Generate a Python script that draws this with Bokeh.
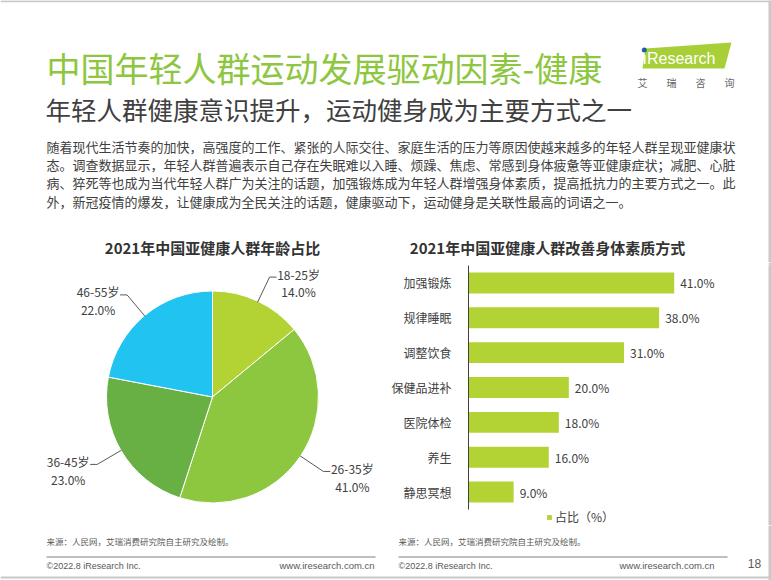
import math
from bokeh.plotting import figure
from bokeh.layouts import column, row
from bokeh.models import Range1d, ColumnDataSource, Legend, LegendItem, FixedTicker
from bokeh.core.properties import value
from bokeh.embed import file_html
from bokeh.resources import INLINE

# ---------------- data ----------------
age_groups = ["18-25岁", "26-35岁", "36-45岁", "46-55岁"]
age_shares = [14.0, 41.0, 23.0, 22.0]
age_colors = ["#B3D334", "#8DC63F", "#69B044", "#21C4F0"]

methods = ["加强锻炼", "规律睡眠", "调整饮食", "保健品进补", "医院体检", "养生", "静思冥想"]
method_shares = [41.0, 38.0, 31.0, 20.0, 18.0, 16.0, 9.0]

title_text = "中国年轻人群运动发展驱动因素-健康"
subtitle_text = "年轻人群健康意识提升，运动健身成为主要方式之一"
paragraph_lines = [
    "随着现代生活节奏的加快，高强度的工作、紧张的人际交往、家庭生活的压力等原因使越来越多的年轻人群呈现亚健康状",
    "态。调查数据显示，年轻人群普遍表示自己存在失眠难以入睡、烦躁、焦虑、常感到身体疲惫等亚健康症状；减肥、心脏",
    "病、猝死等也成为当代年轻人群广为关注的话题，加强锻炼成为年轻人群增强身体素质，提高抵抗力的主要方式之一。此",
    "外，新冠疫情的爆发，让健康成为全民关注的话题，健康驱动下，运动健身是关联性最高的词语之一。",
]
pie_title = "2021年中国亚健康人群年龄占比"
bar_title = "2021年中国亚健康人群改善身体素质方式"
legend_label = "占比（%）"
source_note = "来源：人民网，艾瑞消费研究院自主研究及绘制。"
copyright_text = "©2022.8 iResearch Inc."
website_text = "www.iresearch.com.cn"
page_no = "18"
logo_word = "ıResearch"
logo_chars = ["艾", "瑞", "咨", "询"]

# ---------------- styles ----------------
CJK = "Noto Sans CJK SC"
LAT = "Liberation Sans"
BORDER = "#C8C8C8"
TXT = "#404040"
GREEN_TITLE = "#8DC63F"
BAR_COLOR = "#B3D334"


def blank(w, h, xr, yr):
    p = figure(width=w, height=h, x_range=xr, y_range=yr, output_backend="svg",
               toolbar_location=None, min_border=0, outline_line_color=None,
               background_fill_color="white", border_fill_color="white",
               x_axis_location=None, y_axis_location=None)
    p.grid.visible = False
    return p


# ---------------- header ----------------
hdr = blank(771, 262, Range1d(0, 771), Range1d(262, 0))
hdr.segment(x0=[0], y0=[0.8], x1=[771], y1=[0.8], line_color=BORDER, line_width=2)
hdr.quad(left=[768], right=[771], top=[0], bottom=[262], fill_color=BORDER, line_color=None)

hdr.text(x=[46], y=[67], text=[title_text], text_font=value(CJK), text_font_size="34px",
         text_color=GREEN_TITLE, text_baseline="middle", text_align="left")
hdr.text(x=[45], y=[108], text=[subtitle_text], text_font=value(CJK), text_font_size="25.5px",
         text_color=TXT, text_baseline="middle", text_align="left")
hdr.text(x=[46] * len(paragraph_lines), y=[146 + 18.2 * i for i in range(len(paragraph_lines))],
         text=paragraph_lines, text_font=value(CJK), text_font_size="13px",
         text_color=TXT, text_baseline="middle", text_align="left")
hdr.text(x=[212, 547], y=[247, 247], text=[pie_title, bar_title], text_font=value(CJK),
         text_font_size="15px", text_font_style="bold", text_color="#333333",
         text_baseline="middle", text_align="center")

# logo
hdr.patch(x=[645, 731, 724, 642], y=[48, 42, 68, 68], fill_color="#A8CF38", line_color=None)
hdr.text(x=[642], y=[58], text=[logo_word], text_font=value(LAT), text_font_size="16px",
         text_color="white", text_baseline="middle", text_align="left")
hdr.scatter(x=[643.8], y=[49.5], size=5, marker="circle", fill_color="#1F5FA8", line_color=None)
hdr.text(x=[642, 671, 700, 729], y=[82] * 4, text=logo_chars, text_font=value(CJK),
         text_font_size="10px", text_color="#666666", text_baseline="middle", text_align="center")

# ---------------- pie ----------------
R = 106
pie = blank(385, 263, Range1d(-212, 173), Range1d(-130, 133))
total = sum(age_shares)
starts, ends, mids = [], [], []
cum = 0.0
for s in age_shares:
    a0 = math.pi / 2 - 2 * math.pi * cum / total
    cum += s
    a1 = math.pi / 2 - 2 * math.pi * cum / total
    starts.append(a0)
    ends.append(a1)
    mids.append((a0 + a1) / 2)
pie_src = ColumnDataSource(dict(start=starts, end=ends, color=age_colors))
pie.wedge(x=0, y=0, radius=R, start_angle="start", end_angle="end", direction="clock",
          fill_color="color", line_color="white", line_width=1, source=pie_src)

lx, ly, nx, ny, px_, py_, texts_pct = [], [], [], [], [], [], []
for a, name, s in zip(mids, age_groups, age_shares):
    c, sn = math.cos(a), math.sin(a)
    side = 1 if c >= 0 else -1
    e0 = (R * c, R * sn)
    e1 = ((R + 28) * c, (R + 28) * sn)
    e2 = (e1[0] + side * 7, e1[1])
    lx.append([e0[0], e1[0], e2[0]])
    ly.append([e0[1], e1[1], e2[1]])
    cx = e2[0] + side * 22
    nx.append(cx)
    ny.append(e1[1] + 3)
    px_.append(cx)
    py_.append(e1[1] - 15)
    texts_pct.append(f"{s:.1f}%")
pie.multi_line(xs=lx, ys=ly, line_color="#595959", line_width=1)
pie.text(x=nx, y=ny, text=age_groups, text_font=value(CJK), text_font_size="12px",
         text_color=TXT, text_baseline="middle", text_align="center")
pie.text(x=px_, y=py_, text=texts_pct, text_font=value(CJK), text_font_size="12px",
         text_color=TXT, text_baseline="middle", text_align="center")

# ---------------- bar ----------------
n = len(methods)
order = list(reversed(range(n)))            # first category at the top
ypos = [order[i] + 0.5 for i in range(n)]    # category slot centres
bsrc = ColumnDataSource(dict(y=ypos, val=method_shares,
                             lab=[f"{v:.1f}%" for v in method_shares]))
# 16px below the 7 category slots are reserved for the legend
slot_px = 244 / n
bar = figure(width=383, height=263, y_range=Range1d(-16 / slot_px, n), x_range=Range1d(0, 58),
             output_backend="svg", toolbar_location=None, min_border_left=83,
             min_border_right=9, min_border_top=3, min_border_bottom=0,
             outline_line_color=None, x_axis_location=None,
             background_fill_color="white", border_fill_color="white")
bar.grid.visible = False
r = bar.hbar(y="y", left=0, right="val", height=0.6, fill_color=BAR_COLOR, line_color=None, source=bsrc)
bar.text(x="val", y="y", text="lab", x_offset=6, text_font=value(CJK), text_font_size="12px",
         text_color=TXT, text_baseline="middle", text_align="left", source=bsrc)
ya = bar.yaxis[0]
ya.ticker = FixedTicker(ticks=ypos, minor_ticks=[])
ya.major_label_overrides = {y: m for y, m in zip(ypos, methods)}
ya.bounds = (0, n)
ya.axis_line_color = "#404040"
ya.axis_line_width = 1
ya.major_tick_line_color = None
ya.minor_tick_line_color = None
ya.major_label_standoff = 11
ya.major_label_text_font = CJK
ya.major_label_text_font_size = "12px"
ya.major_label_text_color = TXT

legend = Legend(items=[LegendItem(label=legend_label, renderers=[r])], location=(78, 0),
                orientation="horizontal", glyph_width=6, glyph_height=6, label_standoff=3,
                padding=0, margin=0, spacing=0, border_line_color=None, background_fill_alpha=0,
                label_text_font=CJK, label_text_font_size="12px", label_text_color=TXT,
                label_height=16)
bar.add_layout(legend)

strip = figure(width=3, height=263, output_backend="svg", toolbar_location=None, min_border=0,
               outline_line_color=None, background_fill_color=BORDER, border_fill_color=BORDER,
               x_axis_location=None, y_axis_location=None)
strip.grid.visible = False

# ---------------- footer ----------------
ftr = blank(771, 55, Range1d(0, 771), Range1d(580, 525))
ftr.quad(left=[768], right=[771], top=[525], bottom=[580], fill_color=BORDER, line_color=None)
ftr.segment(x0=[0], y0=[577], x1=[771], y1=[577], line_color=BORDER, line_width=2)
ftr.text(x=[46, 398], y=[540, 540], text=[source_note, source_note], text_font=value(CJK),
         text_font_size="8.5px", text_color="#595959", text_baseline="middle", text_align="left")
ftr.segment(x0=[46, 398], y0=[556.5, 556.5], x1=[375, 727], y1=[556.5, 556.5],
            line_color="#7F7F7F", line_width=1)
ftr.text(x=[46, 398], y=[565, 565], text=[copyright_text, copyright_text], text_font=value(LAT),
         text_font_size="9px", text_color="#595959", text_baseline="middle", text_align="left")
ftr.text(x=[374, 714], y=[565, 565], text=[website_text, website_text], text_font=value(LAT),
         text_font_size="9.5px", text_color="#595959", text_baseline="middle", text_align="right")
ftr.text(x=[754], y=[563], text=[page_no], text_font=value(LAT), text_font_size="12px",
         text_color="#595959", text_baseline="middle", text_align="center")

layout = column(hdr, row(pie, bar, strip, spacing=0), ftr, spacing=0)
open("out.html", "w").write(file_html(layout, INLINE))
